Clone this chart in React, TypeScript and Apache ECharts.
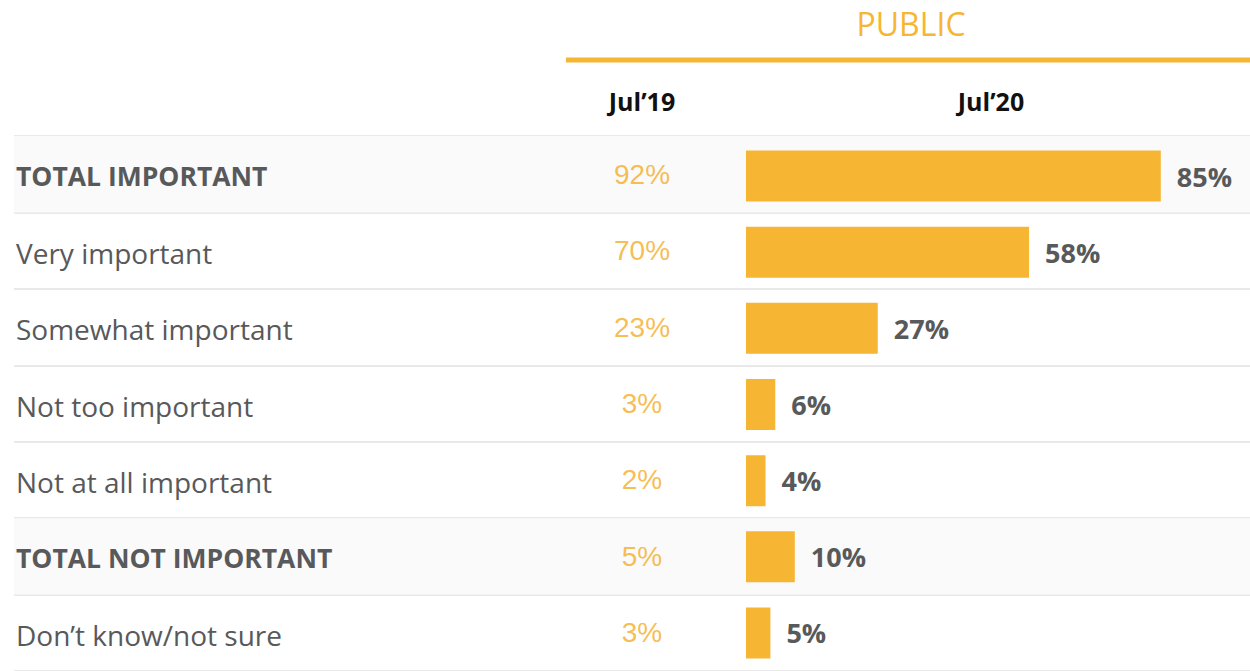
import React, { useEffect, useRef } from "react";
import * as echarts from "echarts";

const categories = [
  "TOTAL IMPORTANT",
  "Very important",
  "Somewhat important",
  "Not too important",
  "Not at all important",
  "TOTAL NOT IMPORTANT",
  "Don’t know/not sure",
];
const jul19 = [92, 70, 23, 3, 2, 5, 3];
const jul20 = [85, 58, 27, 6, 4, 10, 5];
const totalRows = [1, 0, 0, 0, 0, 1, 0];
const columnHeaders = ["Jul’19", "Jul’20"];
const groupTitle = "PUBLIC";

const ORANGE = "#F6B634";
const ORANGE_TEXT = "#F4AC26";
const GREY = "#58595B";

export default function App() {
  const ref = useRef<HTMLDivElement>(null);
  useEffect(() => {
    if (!ref.current) return;
    const chart = echarts.init(ref.current, null, { renderer: "svg" });
    const top = 136;
    const height = 538;
    chart.setOption({
      animation: false,
      graphic: [
        {
          type: "text",
          x: 911,
          y: 23,
          style: {
            text: groupTitle,
            fill: ORANGE,
            font: '32px "Open Sans"',
            textAlign: "center",
            textVerticalAlign: "middle",
          },
        },
        {
          type: "line",
          shape: { x1: 566, y1: 60, x2: 1250, y2: 60 },
          style: { stroke: ORANGE, lineWidth: 5 },
        },
        {
          type: "text",
          x: 642,
          y: 101,
          style: {
            text: columnHeaders[0],
            fill: "#111",
            font: 'bold 25px "Open Sans"',
            textAlign: "center",
            textVerticalAlign: "middle",
          },
        },
        {
          type: "text",
          x: 991,
          y: 101,
          style: {
            text: columnHeaders[1],
            fill: "#111",
            font: 'bold 25px "Open Sans"',
            textAlign: "center",
            textVerticalAlign: "middle",
          },
        },
      ],
      grid: [
        { left: 746, width: 488, top: top + 2, height },
        { left: 14, right: 0, top, height },
        { left: 600, width: 84, top, height },
      ],
      xAxis: [
        { gridIndex: 0, type: "value", min: 0, max: 100, show: false },
        { gridIndex: 1, type: "value", min: 0, max: 1, show: false },
        { gridIndex: 2, type: "value", min: -1, max: 1, show: false },
      ],
      yAxis: [
        {
          gridIndex: 0,
          type: "category",
          data: categories,
          inverse: true,
          axisLine: { show: false },
          axisTick: { show: false },
          axisLabel: { show: false },
          splitLine: { show: false },
        },
        {
          gridIndex: 1,
          type: "category",
          data: categories,
          inverse: true,
          axisLine: { show: false },
          axisTick: { show: false },
          splitLine: { show: true, lineStyle: { color: "#E2E2E2", width: 1.5 } },
          axisLabel: {
            inside: true,
            margin: 2,
            align: "left",
            formatter: (v: string, i: number) =>
              totalRows[i] ? `{b|${v}}` : `{n|${v}}`,
            rich: {
              b: {
                fontFamily: "Open Sans",
                fontWeight: "bold",
                fontSize: 26.5,
                color: GREY,
                padding: [4, 0, 0, 0],
              },
              n: {
                fontFamily: "Open Sans",
                fontSize: 28,
                color: GREY,
                padding: [4, 0, 0, 0],
              },
            },
          },
        },
        {
          gridIndex: 2,
          type: "category",
          data: categories,
          inverse: true,
          show: false,
        },
      ],
      series: [
        {
          type: "bar",
          xAxisIndex: 1,
          yAxisIndex: 1,
          data: totalRows,
          barWidth: "100%",
          silent: true,
          z: 0,
          itemStyle: { color: "#FAFAFA" },
        },
        {
          type: "bar",
          xAxisIndex: 0,
          yAxisIndex: 0,
          data: jul20,
          barWidth: 51,
          z: 3,
          itemStyle: { color: ORANGE },
          label: {
            show: true,
            position: "right",
            distance: 16,
            formatter: "{c}%",
            fontFamily: "Open Sans",
            fontWeight: "bold",
            fontSize: 27,
            color: GREY,
          },
        },
        {
          type: "scatter",
          xAxisIndex: 2,
          yAxisIndex: 2,
          symbolSize: 0,
          data: jul19.map((v, i) => [0, i, v]),
          label: {
            show: true,
            position: "inside",
            formatter: (p: any) => `${p.value[2]}%`,
            fontFamily: "Liberation Sans",
            fontSize: 28,
            color: ORANGE_TEXT,
          },
        },
      ],
    });
    return () => chart.dispose();
  }, []);
  return (
    <div
      ref={ref}
      style={{ position: "absolute", left: 0, top: 0, width: 1250, height: 671, background: "#fff" }}
    />
  );
}
